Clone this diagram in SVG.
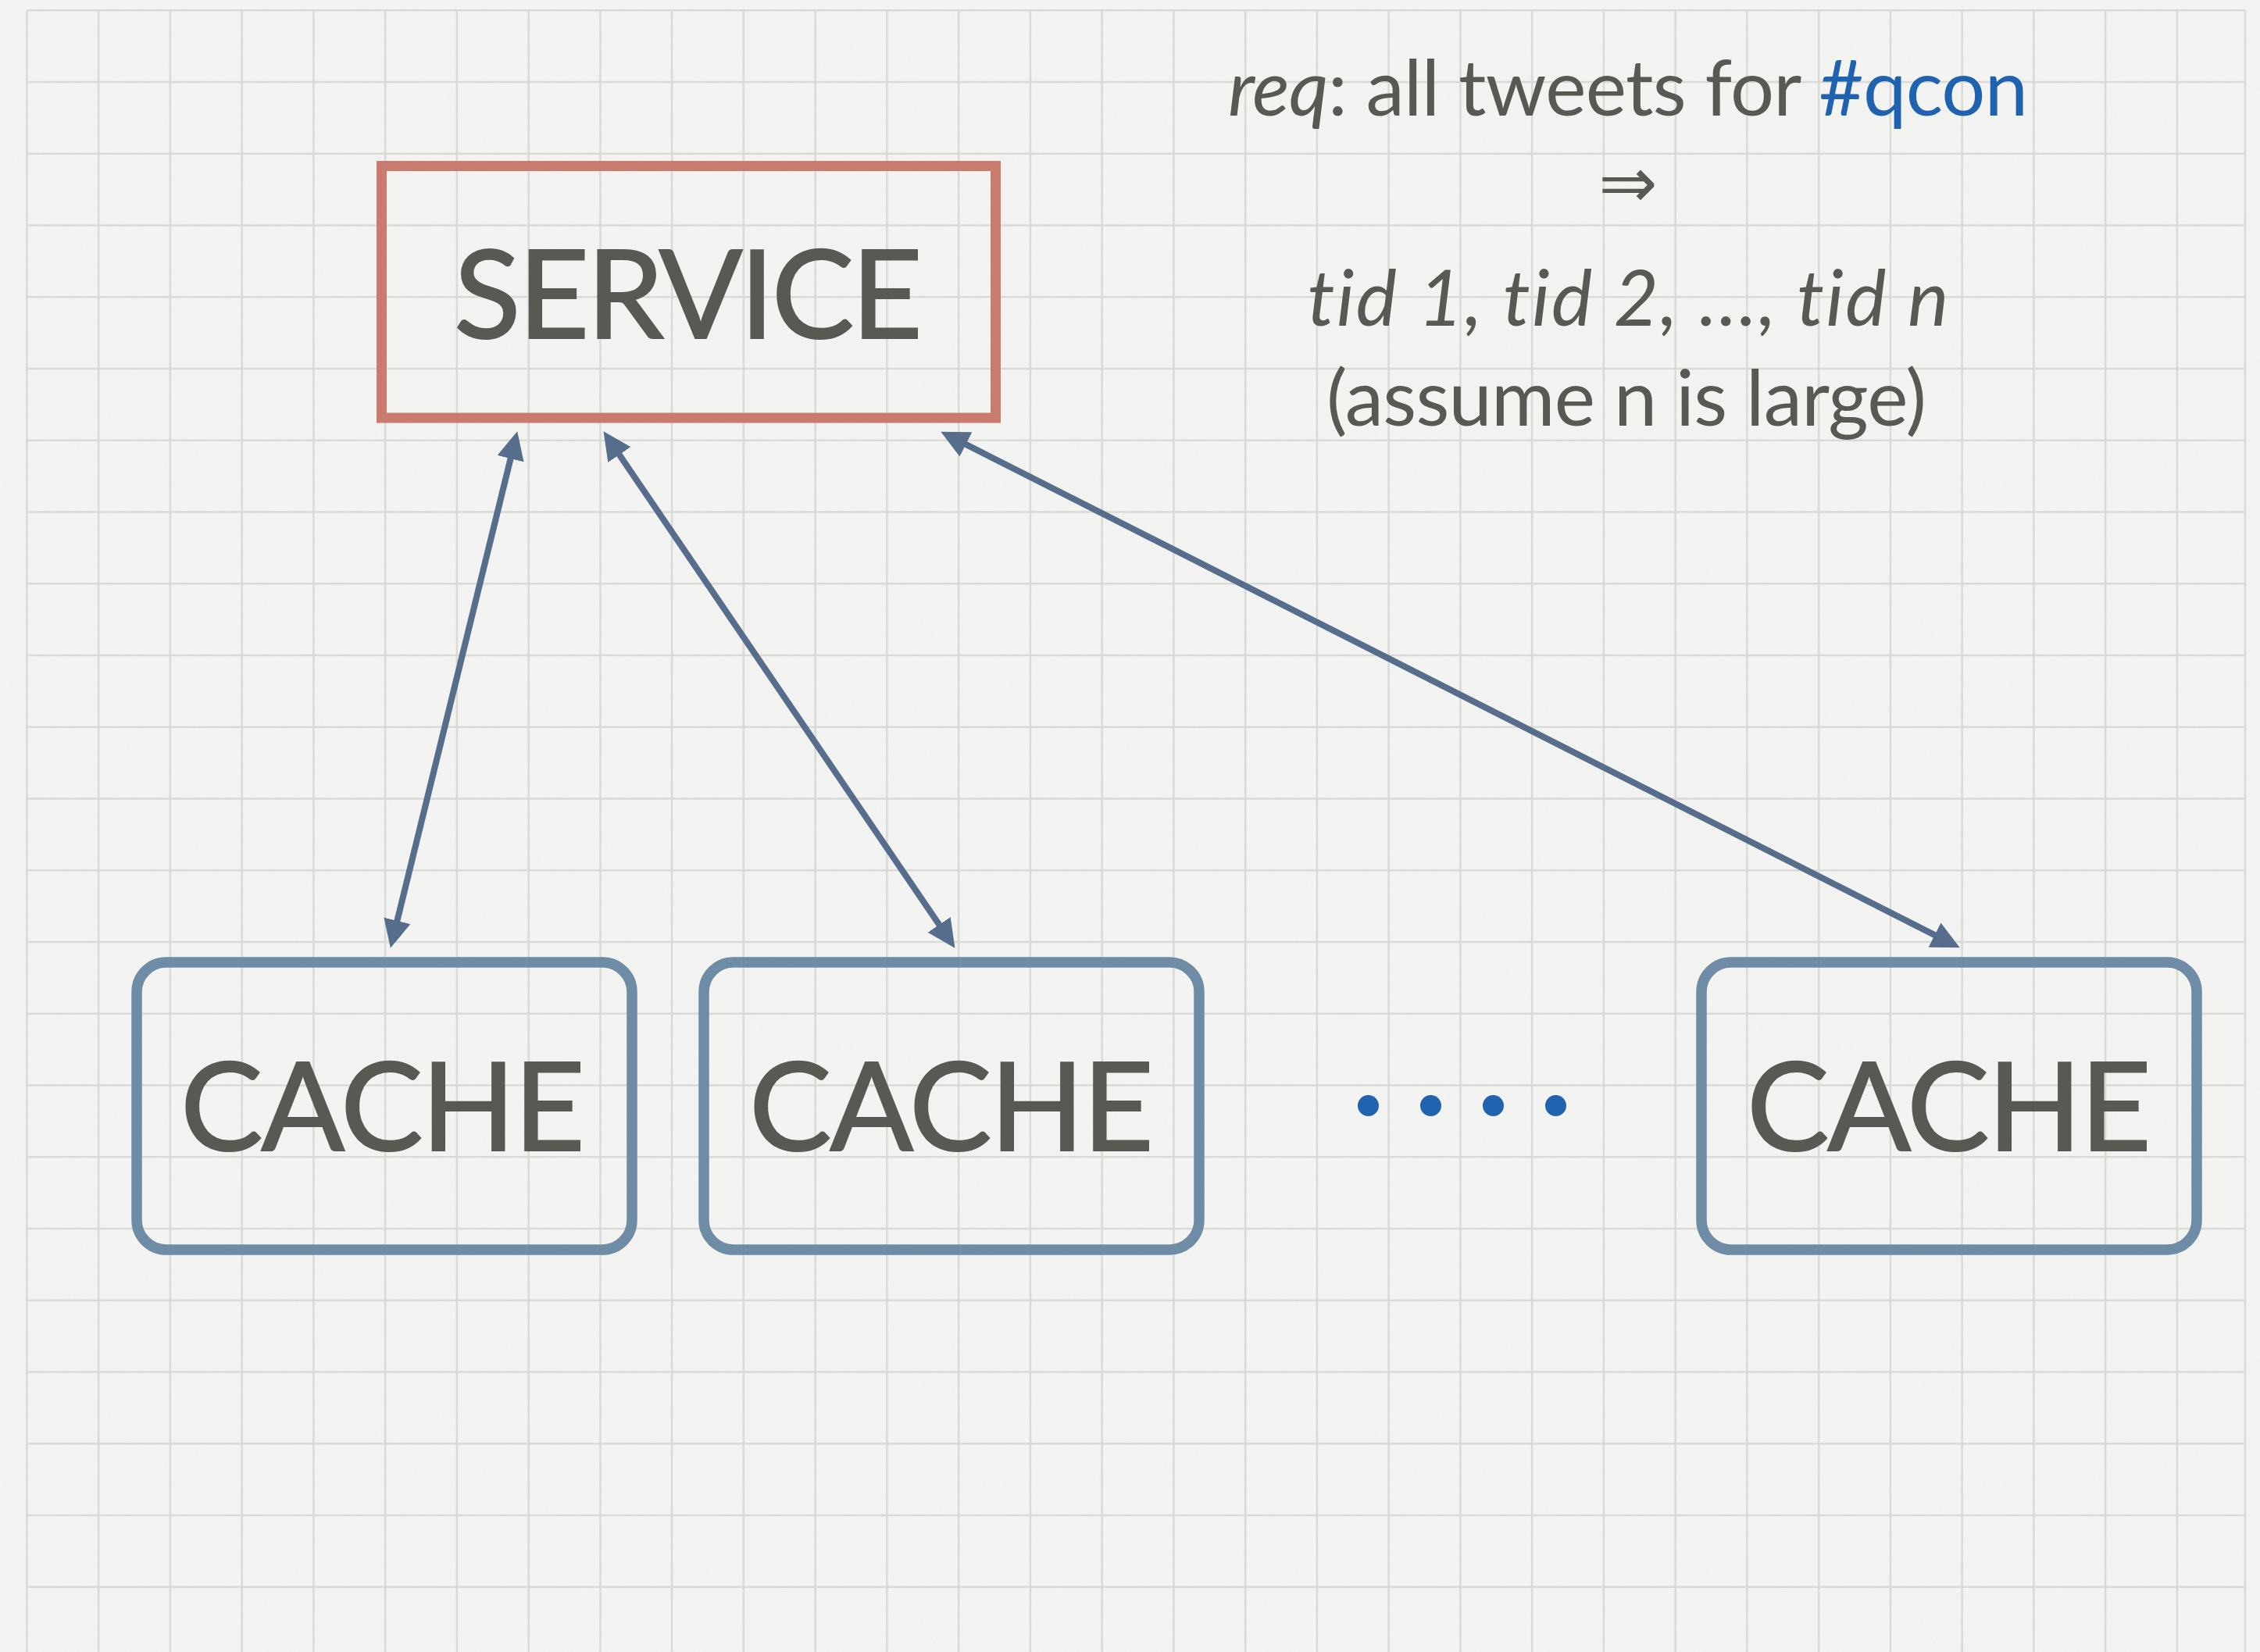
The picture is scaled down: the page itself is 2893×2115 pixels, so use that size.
<svg xmlns="http://www.w3.org/2000/svg" width="2893" height="2115" viewBox="0 0 2893 2115">
  <style>
    text { font-variant-ligatures: none; font-kerning: normal; }
    .grid { fill: none; stroke: #d9d9d6; stroke-width: 2.5; }
    .service { fill: none; stroke: #c97b6e; stroke-width: 13; }
    .cache { fill: none; stroke: #6f8ca6; stroke-width: 13.5; }
    .label { font-family: Lato, "Open Sans", "Liberation Sans", sans-serif; font-size: 158px; fill: #5a5853; stroke: #5a5853; stroke-width: 2; }
    .note { font-family: Lato, "Open Sans", "Liberation Sans", sans-serif; font-size: 99px; fill: #5a5853; }
    .it { font-style: italic; }
    .tag { fill: #1f62b0; }
    .link { fill: none; stroke: #566d8c; stroke-width: 8; marker-start: url(#head); marker-end: url(#head); }
    .dot { fill: #1f62ad; }
  </style>
  <defs>
    <marker id="head" markerUnits="userSpaceOnUse" markerWidth="36" markerHeight="36" viewBox="0 0 35 34" refX="7" refY="17" orient="auto-start-reverse">
      <path d="M0,0 L35,17 L0,34 z" fill="#566d8c"/>
    </marker>
    <filter id="paper" x="0" y="0" width="100%" height="100%">
      <feTurbulence type="fractalNoise" baseFrequency="0.6" numOctaves="2" seed="4" result="n"/>
      <feColorMatrix in="n" type="matrix" values="0 0 0 0 0.45  0 0 0 0 0.45  0 0 0 0 0.43  0 0 0 -1.2 1.1"/>
    </filter>
  </defs>

  <!-- paper -->
  <rect width="2893" height="2115" fill="#f5f5f3"/>
  <rect width="2893" height="2115" filter="url(#paper)" opacity="0.07"/>

  <!-- squared grid -->
  <path class="grid" d="M34.4 13.3V2115 M126.15 13.3V2115 M217.9 13.3V2115 M309.65 13.3V2115 M401.4 13.3V2115 M493.15 13.3V2115 M584.9 13.3V2115 M676.65 13.3V2115 M768.4 13.3V2115 M860.15 13.3V2115 M951.9 13.3V2115 M1043.65 13.3V2115 M1135.4 13.3V2115 M1227.15 13.3V2115 M1318.9 13.3V2115 M1410.65 13.3V2115 M1502.4 13.3V2115 M1594.15 13.3V2115 M1685.9 13.3V2115 M1777.65 13.3V2115 M1869.4 13.3V2115 M1961.15 13.3V2115 M2052.9 13.3V2115 M2144.65 13.3V2115 M2236.4 13.3V2115 M2328.15 13.3V2115 M2419.9 13.3V2115 M2511.65 13.3V2115 M2603.4 13.3V2115 M2695.15 13.3V2115 M2786.9 13.3V2115 M2874 13.3V2115
    M34.4 13.3H2874 M34.4 105.05H2874 M34.4 196.8H2874 M34.4 288.55H2874 M34.4 380.3H2874 M34.4 472.05H2874 M34.4 563.8H2874 M34.4 655.55H2874 M34.4 747.3H2874 M34.4 839.05H2874 M34.4 930.8H2874 M34.4 1022.55H2874 M34.4 1114.3H2874 M34.4 1206.05H2874 M34.4 1297.8H2874 M34.4 1389.55H2874 M34.4 1481.3H2874 M34.4 1573.05H2874 M34.4 1664.8H2874 M34.4 1756.55H2874 M34.4 1848.3H2874 M34.4 1940.05H2874 M34.4 2031.8H2874"/>

  <!-- request / result note -->
  <g id="note">
    <text class="note" x="2084" y="148" text-anchor="middle" textLength="1024" lengthAdjust="spacing"><tspan class="it">req</tspan>: all tweets for <tspan class="tag">#qcon</tspan></text>
    <text x="2084" y="265" text-anchor="middle" font-family="'DejaVu Sans', sans-serif" font-size="90" fill="#5a5853">⇒</text>
    <text class="note it" x="2084" y="417" text-anchor="middle" textLength="821" lengthAdjust="spacing">tid 1, tid 2, …, tid n</text>
    <text class="note" x="2082" y="545" text-anchor="middle" textLength="768" lengthAdjust="spacing">(assume n is large)</text>
  </g>

  <!-- connectors -->
  <g id="connectors">
    <path class="link" d="M655.3 580.2L506.7 1185.8"/>
    <path class="link" d="M788.75 576.15L1206.25 1189.85"/>
    <path class="link" d="M1229.98 565.65L2483.02 1200.35"/>
  </g>

  <g id="service">
    <rect class="service" x="488.5" y="212.5" width="786" height="322.5"/>
    <text class="label" x="581" y="433" textLength="600" lengthAdjust="spacing">SERVICE</text>
  </g>

  <g id="cache-1">
    <rect class="cache" x="175" y="1232" width="634" height="368" rx="38"/>
    <text class="label" x="231" y="1473" textLength="518" lengthAdjust="spacing">CACHE</text>
  </g>

  <g id="cache-2">
    <rect class="cache" x="901" y="1232" width="634" height="368" rx="38"/>
    <text class="label" x="959" y="1473" textLength="518" lengthAdjust="spacing">CACHE</text>
  </g>

  <g id="ellipsis">
    <circle class="dot" cx="1751.5" cy="1415.5" r="13.5"/>
    <circle class="dot" cx="1831.5" cy="1415.5" r="13.5"/>
    <circle class="dot" cx="1911.5" cy="1415.5" r="13.5"/>
    <circle class="dot" cx="1991.5" cy="1415.5" r="13.5"/>
  </g>

  <g id="cache-3">
    <rect class="cache" x="2178" y="1232" width="634" height="368" rx="38"/>
    <text class="label" x="2236" y="1473" textLength="518" lengthAdjust="spacing">CACHE</text>
  </g>
</svg>
